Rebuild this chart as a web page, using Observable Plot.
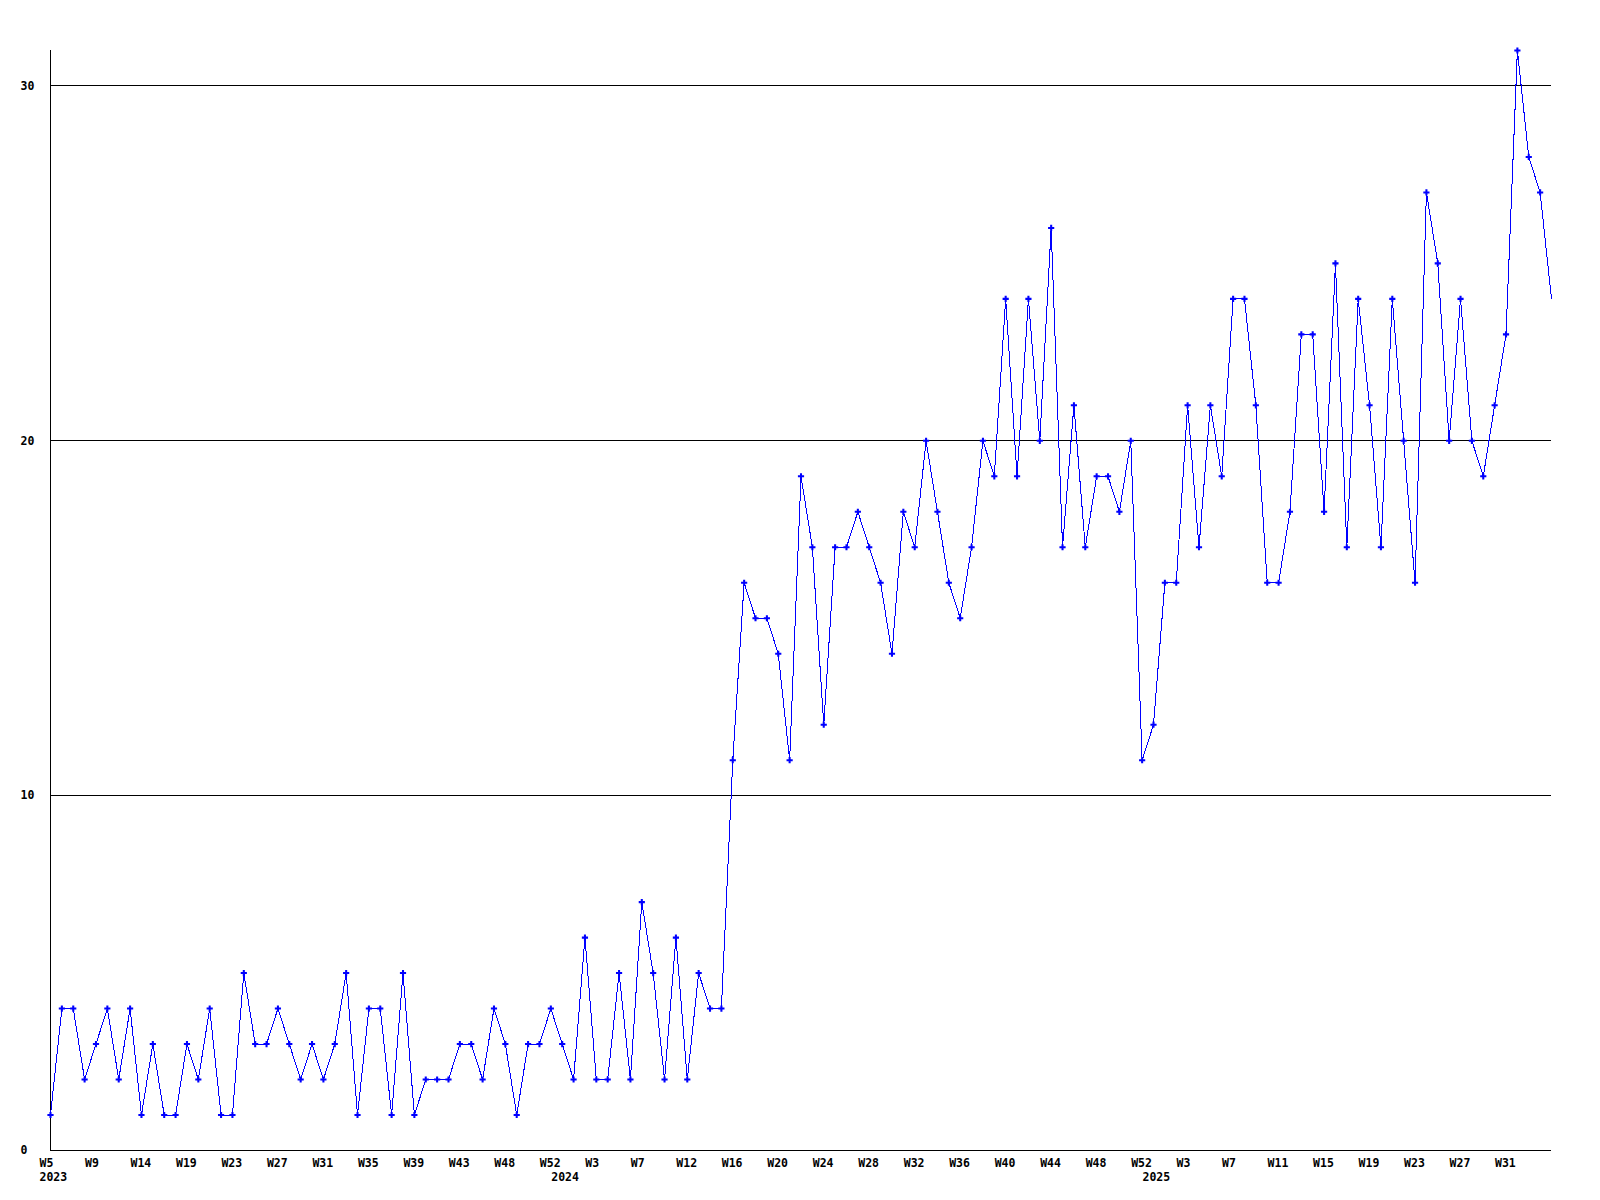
<!DOCTYPE html>
<html><head><meta charset="utf-8">
<script src="https://cdn.jsdelivr.net/npm/d3@7"></script>
<script src="https://cdn.jsdelivr.net/npm/@observablehq/plot@0.6"></script>
<style>html,body{margin:0;padding:0;background:#fff} #chart svg{display:block}</style>
</head><body><div id="chart"></div>
<script>
const values = [
  1,4,4,2,3,4,2,4,1,3,1,1,3,2,4,1,1,5,3,3,4,3,2,3,2,3,5,1,4,4,1,5,1,2,2,2,3,3,2,4,3,1,3,3,4,
  3,2,6,2,2,5,2,7,5,2,6,2,5,4,4,
  11,16,15,15,14,11,19,17,12,17,17,18,17,16,14,18,17,20,18,16,15,17,20,19,
  24,19,24,20,26,17,21,
  17,19,19,18,20,11,12,16,16,21,17,21,19,24,24,21,16,16,18,23,23,18,25,17,24,21,17,24,20,16,27,25,20,24,20,19,21,23,
  31,28,27,24
];
const xTickIdx = [0,4,8,12,16,20,24,28,32,36,40,44,48,52,56,60,64,68,72,76,80,84,88,92,96,100,104,108,112,116,120,124,128];
const xTickLabels = ["W5","W9","W14","W19","W23","W27","W31","W35","W39","W43","W48","W52",
  "W3","W7","W12","W16","W20","W24","W28","W32","W36","W40","W44","W48","W52",
  "W3","W7","W11","W15","W19","W23","W27","W31"];
const yearIdx = [0,45,97];
const yearLabels = ["2023","2024","2025"];
const yTicks = [0,10,20,30];

const data = values.map((v,i)=>({i, v}));
const chart = Plot.plot({
  width:1600, height:1200, marginTop:50, marginBottom:50, marginLeft:50, marginRight:49,
  style:{fontFamily:"'DejaVu Sans Mono', monospace", fontSize:"11.5px", fontWeight:"bold", background:"#fff", color:"#000"},
  x:{domain:[0, values.length-1], label:null},
  y:{domain:[0,31], label:null},
  marks:[
    Plot.gridY(yTicks.filter(d=>d>0), {stroke:"#000", strokeOpacity:1, strokeWidth:1}),
    Plot.ruleY([0], {stroke:"#000"}),
    Plot.ruleX([0], {stroke:"#000"}),
    Plot.axisY({ticks:yTicks, tickSize:0, tickPadding:30, textAnchor:"start", fill:"#000", label:null}),
    Plot.axisX({ticks:xTickIdx, tickFormat:d=>xTickLabels[xTickIdx.indexOf(d)], tickSize:0, tickPadding:13, textAnchor:"start", dx:-11, lineAnchor:"middle", fill:"#000", label:null}),
    Plot.text(yearIdx, {x:d=>d, text:(d,i)=>yearLabels[i], frameAnchor:"bottom", dy:26.5, dx:-11, textAnchor:"start", lineAnchor:"middle", fill:"#000"}),
    Plot.line(data, {x:"i", y:"v", stroke:"#0000ff", strokeWidth:1}),
    Plot.dot(data.slice(0,-1), {x:"i", y:"v", symbol:"cross", r:2.6, fill:"#0000ff", stroke:"none"})
  ]
});
chart.querySelectorAll("[aria-label='line'] path, [aria-label='rule'] line, [aria-label='y-grid'] line").forEach(el => el.setAttribute("shape-rendering","crispEdges"));
document.getElementById("chart").appendChild(chart);
</script>
</body></html>
